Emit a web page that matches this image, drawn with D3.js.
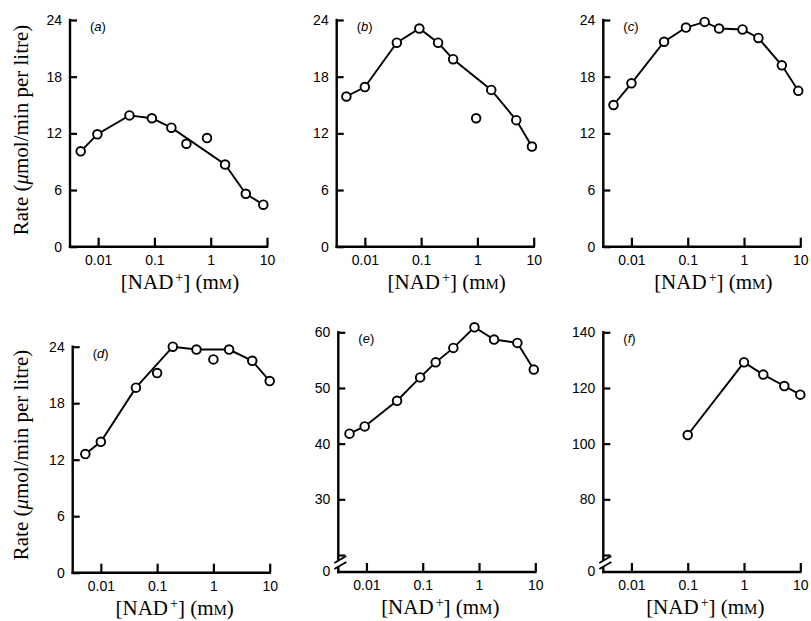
<!DOCTYPE html>
<html>
<head>
<meta charset="utf-8">
<script src="https://cdn.jsdelivr.net/npm/d3@7"></script>
<style>
  body { margin: 0; background: #fff; }
</style>
</head>
<body>
<svg id="chart" width="811" height="621"></svg>
<script>
// [NAD+] (mM) and rate (umol/min per litre)
const concA = [0.0049, 0.0097, 0.036, 0.09, 0.2, 0.37, 0.86, 1.8, 4.2, 8.6];
const rateA = [10.1, 11.9, 13.9, 13.6, 12.6, 10.9, 11.5, 8.7, 5.6, 4.45];
const offA = [5, 6]; // points not on the drawn curve

const concB = [0.0047, 0.01, 0.037, 0.093, 0.2, 0.37, 0.95, 1.76, 4.9, 9.3];
const rateB = [15.9, 16.9, 21.6, 23.1, 21.6, 19.85, 13.6, 16.6, 13.4, 10.6];
const offB = [6];

const concC = [0.0048, 0.01, 0.038, 0.093, 0.2, 0.36, 0.94, 1.8, 4.7, 9.2];
const rateC = [15.0, 17.3, 21.7, 23.2, 23.8, 23.1, 23.0, 22.1, 19.2, 16.5];
const offC = [];

const concD = [0.0053, 0.01, 0.042, 0.1, 0.19, 0.5, 1.0, 1.9, 4.9, 10];
const rateD = [12.6, 13.9, 19.65, 21.2, 24.0, 23.7, 22.65, 23.7, 22.5, 20.35];
const offD = [3, 6];

const concE = [0.005, 0.0093, 0.035, 0.09, 0.17, 0.35, 0.83, 1.85, 4.8, 9.4];
const rateE = [41.8, 43.1, 47.7, 51.9, 54.6, 57.2, 60.9, 58.7, 58.1, 53.3];
const offE = [];

const concF = [0.1, 1.0, 2.2, 5.2, 10];
const rateF = [103.1, 129.2, 124.8, 120.7, 117.6];
const offF = [];

const xTicks = [0.01, 0.1, 1, 10];
const xTickLabels = ["0.01", "0.1", "1", "10"];
const yTicksRate = [0, 6, 12, 18, 24];
const yTicksE = [20, 30, 40, 50, 60];
const yTicksF = [60, 80, 100, 120, 140];

const svg = d3.select("#chart");
svg.append("rect").attr("width", 811).attr("height", 621).attr("fill", "#fff");

const panels = [
  { label: "a", conc: concA, rate: rateA, off: offA, left: 70, top: 20, yBot: 246.7, base: 246.7, dom: [0, 24], ticks: yTicksRate, row: 0 },
  { label: "b", conc: concB, rate: rateB, off: offB, left: 336.7, top: 20, yBot: 246.7, base: 246.7, dom: [0, 24], ticks: yTicksRate, row: 0 },
  { label: "c", conc: concC, rate: rateC, off: offC, left: 603.3, top: 20, yBot: 246.7, base: 246.7, dom: [0, 24], ticks: yTicksRate, row: 0 },
  { label: "d", conc: concD, rate: rateD, off: offD, left: 72.7, top: 346.7, yBot: 572.7, base: 572.7, dom: [0, 24], ticks: yTicksRate, row: 1 },
  { label: "e", conc: concE, rate: rateE, off: offE, left: 338.3, top: 332.3, yBot: 555, base: 572, dom: [20, 60], ticks: yTicksE, row: 1, broken: true },
  { label: "f", conc: concF, rate: rateF, off: offF, left: 603.3, top: 332.3, yBot: 555, base: 572, dom: [60, 140], ticks: yTicksF, row: 1, broken: true }
];

const sansFont = "'Liberation Sans', Arial, sans-serif";
const serifFont = "'Liberation Serif', 'Times New Roman', serif";

panels.forEach(drawPanel);

function drawPanel(p) {
  const g = svg.append("g");
  const x = d3.scaleLog().domain([Math.pow(10, -2.5), 10]).range([p.left, p.left + 197]);
  const y = d3.scaleLinear().domain(p.dom).range([p.yBot, p.top]);

  // x axis ticks + labels
  const xa = d3.axisBottom(x)
    .tickValues(xTicks)
    .tickFormat((d, i) => xTickLabels[i])
    .tickSizeInner(-9)
    .tickSizeOuter(0)
    .tickPadding(8);
  g.append("g")
    .attr("transform", `translate(0,${p.base})`)
    .call(xa)
    .call(s => s.select(".domain").remove());

  // y axis ticks + labels
  const ya = d3.axisLeft(y)
    .tickValues(p.ticks)
    .tickFormat(d => (p.broken && d === p.ticks[0]) ? "" : d)
    .tickSizeInner(-7)
    .tickSizeOuter(0)
    .tickPadding(8);
  g.append("g")
    .attr("transform", `translate(${p.left},0)`)
    .call(ya)
    .call(s => s.select(".domain").remove());

  g.selectAll(".tick line").attr("stroke", "#000").attr("stroke-width", 2.2);
  g.selectAll(".tick text")
    .attr("font-family", sansFont)
    .attr("font-size", 14)
    .attr("fill", "#000");

  // axis lines
  const axisStyle = sel => sel.attr("stroke", "#000").attr("stroke-width", 2.4).attr("stroke-linecap", "square");
  g.append("line")
    .attr("x1", p.left).attr("x2", x.range()[1])
    .attr("y1", p.base).attr("y2", p.base)
    .call(axisStyle);

  if (p.broken) {
    g.append("line")
      .attr("x1", p.left).attr("x2", p.left)
      .attr("y1", p.top).attr("y2", p.base - 13)
      .call(axisStyle);
    g.append("line")
      .attr("x1", p.left).attr("x2", p.left)
      .attr("y1", p.base - 4).attr("y2", p.base)
      .call(axisStyle);
    [p.base - 12, p.base - 6].forEach(yy => {
      g.append("line")
        .attr("x1", p.left - 4).attr("y1", yy + 3)
        .attr("x2", p.left + 8).attr("y2", yy - 4)
        .attr("stroke", "#000").attr("stroke-width", 2);
    });
    g.append("text")
      .attr("x", p.left - 8).attr("y", p.base)
      .attr("dy", "0.32em")
      .attr("text-anchor", "end")
      .attr("font-family", sansFont)
      .attr("font-size", 14)
      .text("0");
  } else {
    g.append("line")
      .attr("x1", p.left).attr("x2", p.left)
      .attr("y1", p.top).attr("y2", p.base)
      .call(axisStyle);
  }

  // data
  const pts = p.conc.map((c, i) => ({ c: c, r: p.rate[i], i: i }));
  const line = d3.line().x(d => x(d.c)).y(d => y(d.r));
  g.append("path")
    .datum(pts.filter(d => p.off.indexOf(d.i) < 0))
    .attr("d", line)
    .attr("fill", "none")
    .attr("stroke", "#000")
    .attr("stroke-width", 1.9);

  g.selectAll("circle.pt")
    .data(pts)
    .enter()
    .append("circle")
    .attr("class", "pt")
    .attr("cx", d => x(d.c))
    .attr("cy", d => y(d.r))
    .attr("r", 4.3)
    .attr("fill", "#fff")
    .attr("stroke", "#000")
    .attr("stroke-width", 1.9);

  // panel label
  const lab = g.append("text")
    .attr("x", p.left + 20)
    .attr("y", p.top + 11)
    .attr("font-family", sansFont)
    .attr("font-size", 13);
  lab.append("tspan").text("(");
  lab.append("tspan").attr("font-style", "italic").text(p.label);
  lab.append("tspan").text(")");

  // x axis title
  const xt = g.append("text")
    .attr("x", p.left + (p.row === 0 ? 110 : 102))
    .attr("y", p.base + 42)
    .attr("text-anchor", "middle")
    .attr("font-family", serifFont)
    .attr("font-size", 21);
  xt.append("tspan").text("[NAD");
  xt.append("tspan").attr("dx", 2).attr("dy", -7).attr("font-size", 14).text("+");
  xt.append("tspan").attr("dy", 7).text("] (m");
  xt.append("tspan").attr("font-size", 15).text("M");
  xt.append("tspan").text(")");

  // y axis title on the left column only
  if (p.label === "a" || p.label === "d") {
    const yt = svg.append("text")
      .attr("transform", `translate(28,${p.label === "a" ? 130 : 455}) rotate(-90)`)
      .attr("text-anchor", "middle")
      .attr("font-family", serifFont)
      .attr("font-size", 21);
    yt.append("tspan").text("Rate (");
    yt.append("tspan").attr("font-style", "italic").text("\u03bc");
    yt.append("tspan").text("mol/min per litre)");
  }
}
</script>
</body>
</html>
